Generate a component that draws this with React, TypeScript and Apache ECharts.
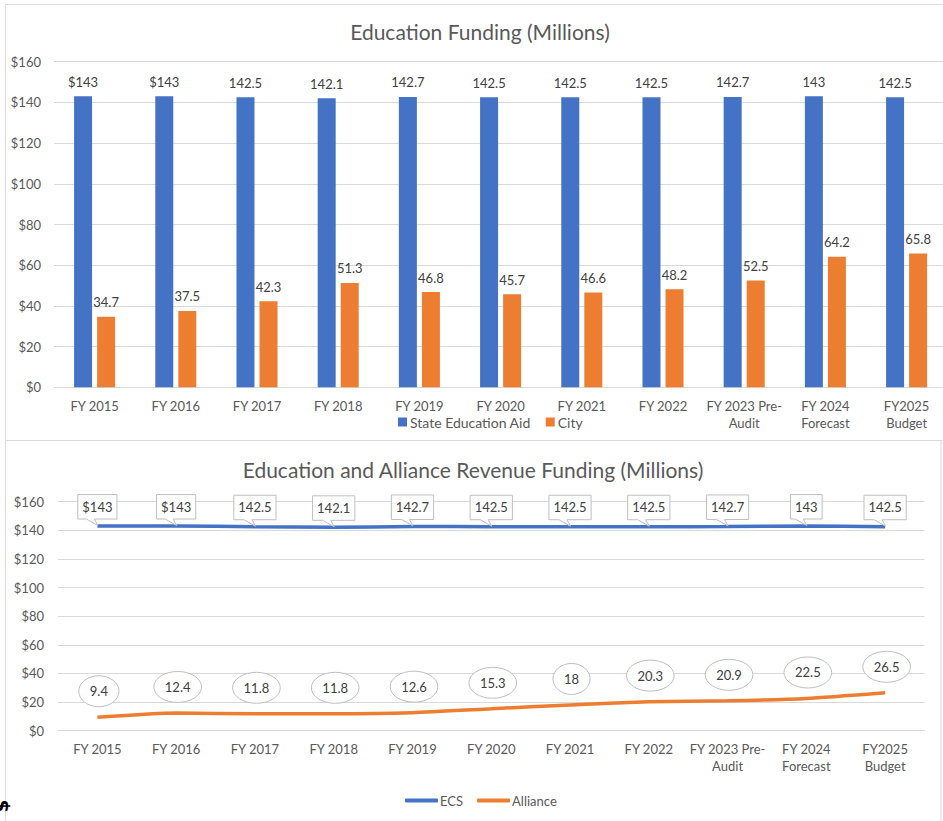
import React, { useEffect, useRef } from "react";
import * as echarts from "echarts";

const fiscalYears = [
  "FY 2015",
  "FY 2016",
  "FY 2017",
  "FY 2018",
  "FY 2019",
  "FY 2020",
  "FY 2021",
  "FY 2022",
  "FY 2023 Pre-\nAudit",
  "FY 2024\nForecast",
  "FY2025\nBudget",
];
const stateEducationAid = [143, 143, 142.5, 142.1, 142.7, 142.5, 142.5, 142.5, 142.7, 143, 142.5];
const stateAidLabels = ["$143", "$143", "142.5", "142.1", "142.7", "142.5", "142.5", "142.5", "142.7", "143", "142.5"];
const cityFunding = [34.7, 37.5, 42.3, 51.3, 46.8, 45.7, 46.6, 48.2, 52.5, 64.2, 65.8];
const ecsFunding = [143, 143, 142.5, 142.1, 142.7, 142.5, 142.5, 142.5, 142.7, 143, 142.5];
const ecsLabels = ["$143", "$143", "142.5", "142.1", "142.7", "142.5", "142.5", "142.5", "142.7", "143", "142.5"];
const allianceFunding = [9.4, 12.4, 11.8, 11.8, 12.6, 15.3, 18, 20.3, 20.9, 22.5, 26.5];
const allianceLabels = ["9.4", "12.4", "11.8", "11.8", "12.6", "15.3", "18", "20.3", "20.9", "22.5", "26.5"];
const yMin = 0;
const yMax = 160;
const yStep = 20;

const FAMILY = "Lato, 'Open Sans', 'Liberation Sans', sans-serif";
const FONT13 = `13px ${FAMILY}`;
const BLUE = "#4472C4";
const ORANGE = "#ED7D31";
const GRID = "#d9d9d9";
const AXIS_TEXT = "#595959";
const LABEL_TEXT = "#404040";

let measureCtx: CanvasRenderingContext2D | null = null;
function textWidth(s: string, font: string): number {
  if (!measureCtx) measureCtx = document.createElement("canvas").getContext("2d");
  if (!measureCtx) return s.length * 7;
  measureCtx.font = font;
  return measureCtx.measureText(s).width;
}

function buildOption(): any {
  const yAxisCommon = {
    type: "value",
    min: yMin,
    max: yMax,
    interval: yStep,
    axisLine: { show: false },
    axisTick: { show: false },
    axisLabel: {
      formatter: "${value}",
      color: AXIS_TEXT,
      fontSize: 13,
      fontFamily: FAMILY,
      margin: 13,
    },
    splitLine: { lineStyle: { color: GRID, width: 1 } },
  };
  const xAxisCommon = {
    type: "category",
    data: fiscalYears,
    boundaryGap: true,
    axisLine: { lineStyle: { color: GRID, width: 1 } },
    axisTick: { show: false },
    axisLabel: {
      interval: 0,
      color: AXIS_TEXT,
      fontSize: 13,
      fontFamily: FAMILY,
      margin: 10,
      lineHeight: 17,
    },
  };

  return {
    animation: false,
    backgroundColor: "#ffffff",
    textStyle: { fontFamily: FAMILY },
    grid: [
      { left: 54, top: 61.7, width: 893.2, height: 325.6 },
      { left: 58, top: 501.7, width: 866.5, height: 229 },
    ],
    xAxis: [
      { ...xAxisCommon, gridIndex: 0 },
      { ...xAxisCommon, gridIndex: 1 },
    ],
    yAxis: [
      { ...yAxisCommon, gridIndex: 0 },
      { ...yAxisCommon, gridIndex: 1, axisLabel: { ...yAxisCommon.axisLabel, margin: 14 } },
    ],
    legend: [
      {
        data: ["State Education Aid", "City"],
        left: 393,
        top: 410,
        icon: "rect",
        itemWidth: 9,
        itemHeight: 9,
        itemGap: 15,
        textStyle: { color: AXIS_TEXT, fontSize: 14, fontFamily: FAMILY, padding: [0, 0, 0, -2] },
      },
      {
        data: ["ECS", "Alliance"],
        left: 400,
        top: 789,
        icon: "roundRect",
        itemWidth: 33,
        itemHeight: 4,
        itemGap: 14,
        textStyle: { color: AXIS_TEXT, fontSize: 13, fontFamily: FAMILY, padding: [0, 0, 0, -3] },
      },
    ],
    graphic: [
      {
        type: "rect",
        silent: true,
        shape: { x: 5.5, y: 4.5, width: 990, height: 436 },
        style: { fill: "none", stroke: GRID, lineWidth: 1 },
      },
      {
        type: "rect",
        silent: true,
        shape: { x: 5.5, y: 440.5, width: 935.5, height: 500 },
        style: { fill: "none", stroke: GRID, lineWidth: 1 },
      },
      {
        type: "text",
        silent: true,
        x: 480,
        y: 31,
        style: {
          text: "Education Funding (Millions)",
          font: `21px ${FAMILY}`,
          fill: AXIS_TEXT,
          align: "center",
          verticalAlign: "middle",
        },
      },
      {
        type: "text",
        silent: true,
        x: 473,
        y: 469,
        style: {
          text: "Education and Alliance Revenue Funding (Millions)",
          font: `21px ${FAMILY}`,
          fill: AXIS_TEXT,
          align: "center",
          verticalAlign: "middle",
        },
      },
      {
        type: "text",
        silent: true,
        x: 1,
        y: 806,
        rotation: Math.PI / 2,
        style: {
          text: "$",
          font: `bold 18px 'DejaVu Sans', sans-serif`,
          fill: "#000000",
          align: "center",
          verticalAlign: "middle",
        },
      },
    ],
    series: [
      {
        name: "State Education Aid",
        type: "bar",
        xAxisIndex: 0,
        yAxisIndex: 0,
        data: stateEducationAid,
        barWidth: 18,
        barGap: "28%",
        itemStyle: { color: BLUE },
        label: {
          show: true,
          position: "top",
          distance: 8,
          color: LABEL_TEXT,
          fontSize: 13,
          fontFamily: FAMILY,
          formatter: (p: any) => stateAidLabels[p.dataIndex],
        },
      },
      {
        name: "City",
        type: "bar",
        xAxisIndex: 0,
        yAxisIndex: 0,
        data: cityFunding,
        barWidth: 18,
        barGap: "28%",
        itemStyle: { color: ORANGE },
        label: {
          show: true,
          position: "top",
          distance: 8,
          color: LABEL_TEXT,
          fontSize: 13,
          fontFamily: FAMILY,
        },
      },
      {
        name: "ECS",
        type: "line",
        xAxisIndex: 1,
        yAxisIndex: 1,
        data: ecsFunding,
        showSymbol: false,
        smooth: 0.2,
        lineStyle: { color: BLUE, width: 3.5 },
        itemStyle: { color: BLUE },
      },
      {
        name: "Alliance",
        type: "line",
        xAxisIndex: 1,
        yAxisIndex: 1,
        data: allianceFunding,
        showSymbol: false,
        smooth: 0.2,
        lineStyle: { color: ORANGE, width: 3.5 },
        itemStyle: { color: ORANGE },
      },
      {
        name: "ECS labels",
        type: "custom",
        xAxisIndex: 1,
        yAxisIndex: 1,
        z: 5,
        silent: true,
        data: ecsFunding.map((v, i) => [i, v]),
        encode: { x: 0, y: 1 },
        renderItem: (params: any, api: any) => {
          const pt = api.coord([api.value(0), api.value(1)]);
          const px = pt[0];
          const py = pt[1];
          const text = ecsLabels[params.dataIndex];
          const tw = textWidth(text, FONT13);
          const w = tw + 9;
          const h = 24.5;
          const cx = px;
          const b = py - 7;
          const t = b - h;
          const l = cx - w / 2;
          const r = cx + w / 2;
          return {
            type: "group",
            children: [
              {
                type: "polygon",
                shape: {
                  points: [
                    [l, t],
                    [r, t],
                    [r, b],
                    [cx - 3, b],
                    [px + 0.5, py - 0.5],
                    [cx - 11, b],
                    [l, b],
                  ],
                },
                style: { fill: "#ffffff", stroke: "#bfbfbf", lineWidth: 1 },
              },
              {
                type: "text",
                style: {
                  text,
                  x: cx,
                  y: (t + b) / 2,
                  align: "center",
                  verticalAlign: "middle",
                  fill: LABEL_TEXT,
                  font: FONT13,
                },
              },
            ],
          };
        },
      },
      {
        name: "Alliance labels",
        type: "custom",
        xAxisIndex: 1,
        yAxisIndex: 1,
        z: 5,
        silent: true,
        data: allianceFunding.map((v, i) => [i, v]),
        encode: { x: 0, y: 1 },
        renderItem: (params: any, api: any) => {
          const pt = api.coord([api.value(0), api.value(1)]);
          const text = allianceLabels[params.dataIndex];
          const tw = textWidth(text, FONT13);
          const cx = pt[0] + 1.5;
          const cy = pt[1] - 26;
          return {
            type: "group",
            children: [
              {
                type: "ellipse",
                shape: { cx, cy, rx: tw / 2 + 11, ry: 15.5 },
                style: { fill: "#ffffff", stroke: "#bfbfbf", lineWidth: 1 },
              },
              {
                type: "text",
                style: {
                  text,
                  x: cx,
                  y: cy,
                  align: "center",
                  verticalAlign: "middle",
                  fill: LABEL_TEXT,
                  font: FONT13,
                },
              },
            ],
          };
        },
      },
    ],
  };
}

export default function App() {
  const ref = useRef<HTMLDivElement | null>(null);
  useEffect(() => {
    if (!ref.current) return;
    const chart = echarts.init(ref.current, undefined, { renderer: "svg" });
    chart.setOption(buildOption());
    return () => {
      chart.dispose();
    };
  }, []);
  return (
    <div
      style={{
        position: "absolute",
        left: 0,
        top: 0,
        width: 943,
        height: 821,
        overflow: "hidden",
        background: "#ffffff",
      }}
    >
      <div ref={ref} style={{ width: 950, height: 821 }} />
    </div>
  );
}
